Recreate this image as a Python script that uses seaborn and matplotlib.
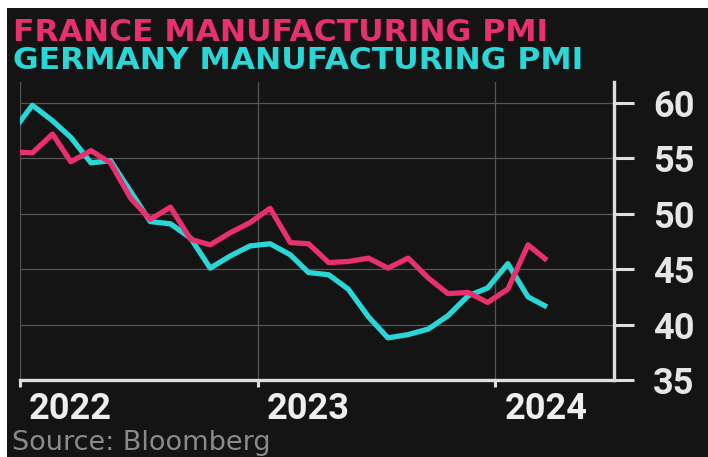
import matplotlib
matplotlib.use("Agg")
import matplotlib.pyplot as plt
from matplotlib.transforms import ScaledTranslation
from matplotlib.patches import Rectangle
import seaborn as sns
import pandas as pd

# ---- data (monthly PMI readings, Dec 2021 - Mar 2024) ----
months = pd.date_range("2021-12-01", "2024-03-01", freq="MS") + pd.Timedelta(days=19)
france = [55.6, 55.5, 57.2, 54.7, 55.7, 54.6, 51.4, 49.5, 50.6, 47.7, 47.2, 48.3, 49.2,
          50.5, 47.4, 47.3, 45.6, 45.7, 46.0, 45.1, 46.0, 44.2, 42.8, 42.9, 42.0,
          43.2, 47.2, 45.8]
germany = [57.4, 59.8, 58.4, 56.9, 54.6, 54.8, 52.0, 49.3, 49.1, 47.8, 45.1, 46.2, 47.1,
           47.3, 46.3, 44.7, 44.5, 43.2, 40.7, 38.8, 39.1, 39.6, 40.8, 42.6, 43.3,
           45.5, 42.5, 41.6]
year_ticks = pd.to_datetime(["2022-01-01", "2023-01-01", "2024-01-01"])
year_labels = ["2022", "2023", "2024"]
y_ticks = [35, 40, 45, 50, 55, 60]
titles = ["FRANCE MANUFACTURING PMI", "GERMANY MANUFACTURING PMI"]
source = "Source: Bloomberg"

BG = "#141414"
PINK = "#e8306e"
CYAN = "#2ad6d6"
AXC = "#dedede"

sns.set_theme(style="dark")
plt.rcParams["font.family"] = ["DejaVu Sans"]

df = pd.DataFrame({
    "date": list(months) * 2,
    "pmi": germany + france,
    "series": ["Germany"] * len(months) + ["France"] * len(months),
})

W, H = 708, 457
fig = plt.figure(figsize=(W / 100, H / 100), dpi=100, facecolor="white")
fig.patches.append(Rectangle((7 / W, 0), 1, 1 - 8 / H, transform=fig.transFigure,
                             facecolor=BG, edgecolor="none", zorder=-5))

ax = fig.add_axes([20 / W, 77 / H, 594 / W, 298 / H])
ax.set_facecolor(BG)

sns.lineplot(data=df, x="date", y="pmi", hue="series", hue_order=["Germany", "France"],
             palette={"Germany": CYAN, "France": PINK}, linewidth=3.8, legend=False,
             ax=ax, solid_capstyle="butt")

ax.set_xlim(pd.Timestamp("2022-01-01"), pd.Timestamp("2024-07-01"))
ax.set_ylim(35, 61.9)
ax.set_xlabel("")
ax.set_ylabel("")

ax.yaxis.tick_right()
ax.set_yticks(y_ticks)
ax.set_yticklabels([str(v) for v in y_ticks])
ax.set_xticks(year_ticks)
ax.set_xticklabels(year_labels)

for s in ["left", "top"]:
    ax.spines[s].set_visible(False)
for s in ["right", "bottom"]:
    ax.spines[s].set_visible(True)
    ax.spines[s].set_color(AXC)
    ax.spines[s].set_linewidth(2.4)

ax.grid(True, color="#555555", linewidth=0.9)
ax.set_axisbelow(True)

ax.tick_params(axis="y", which="major", right=True, left=False, direction="out",
               length=14.5, width=2.2, color=AXC, pad=13.5, labelsize=26,
               labelcolor="#e6e6e6")
ax.tick_params(axis="x", which="major", bottom=True, direction="out",
               length=5, width=2.2, color=AXC, pad=3, labelsize=26,
               labelcolor="#eeeeee")
for lab in ax.get_yticklabels() + ax.get_xticklabels():
    lab.set_fontfamily(["Roboto", "DejaVu Sans"])
    lab.set_fontweight("bold")
offset = ScaledTranslation(9 / 100, 0, fig.dpi_scale_trans)
for lab in ax.get_xticklabels():
    lab.set_horizontalalignment("left")
    lab.set_transform(lab.get_transform() + offset)

fig.text(13 / W, 1 - 18 / H, titles[0], color=PINK, fontsize=22.6, fontweight="bold",
         ha="left", va="top", family=["DejaVu Sans"])
fig.text(13 / W, 1 - 46 / H, titles[1], color=CYAN, fontsize=22.6, fontweight="bold",
         ha="left", va="top", family=["DejaVu Sans"])
fig.text(12 / W, 1 - 430 / H, source, color="#8a8a8a", fontsize=19.5,
         ha="left", va="top", family=["DejaVu Sans"])

fig.savefig("out.png", dpi=100, facecolor=fig.get_facecolor())
